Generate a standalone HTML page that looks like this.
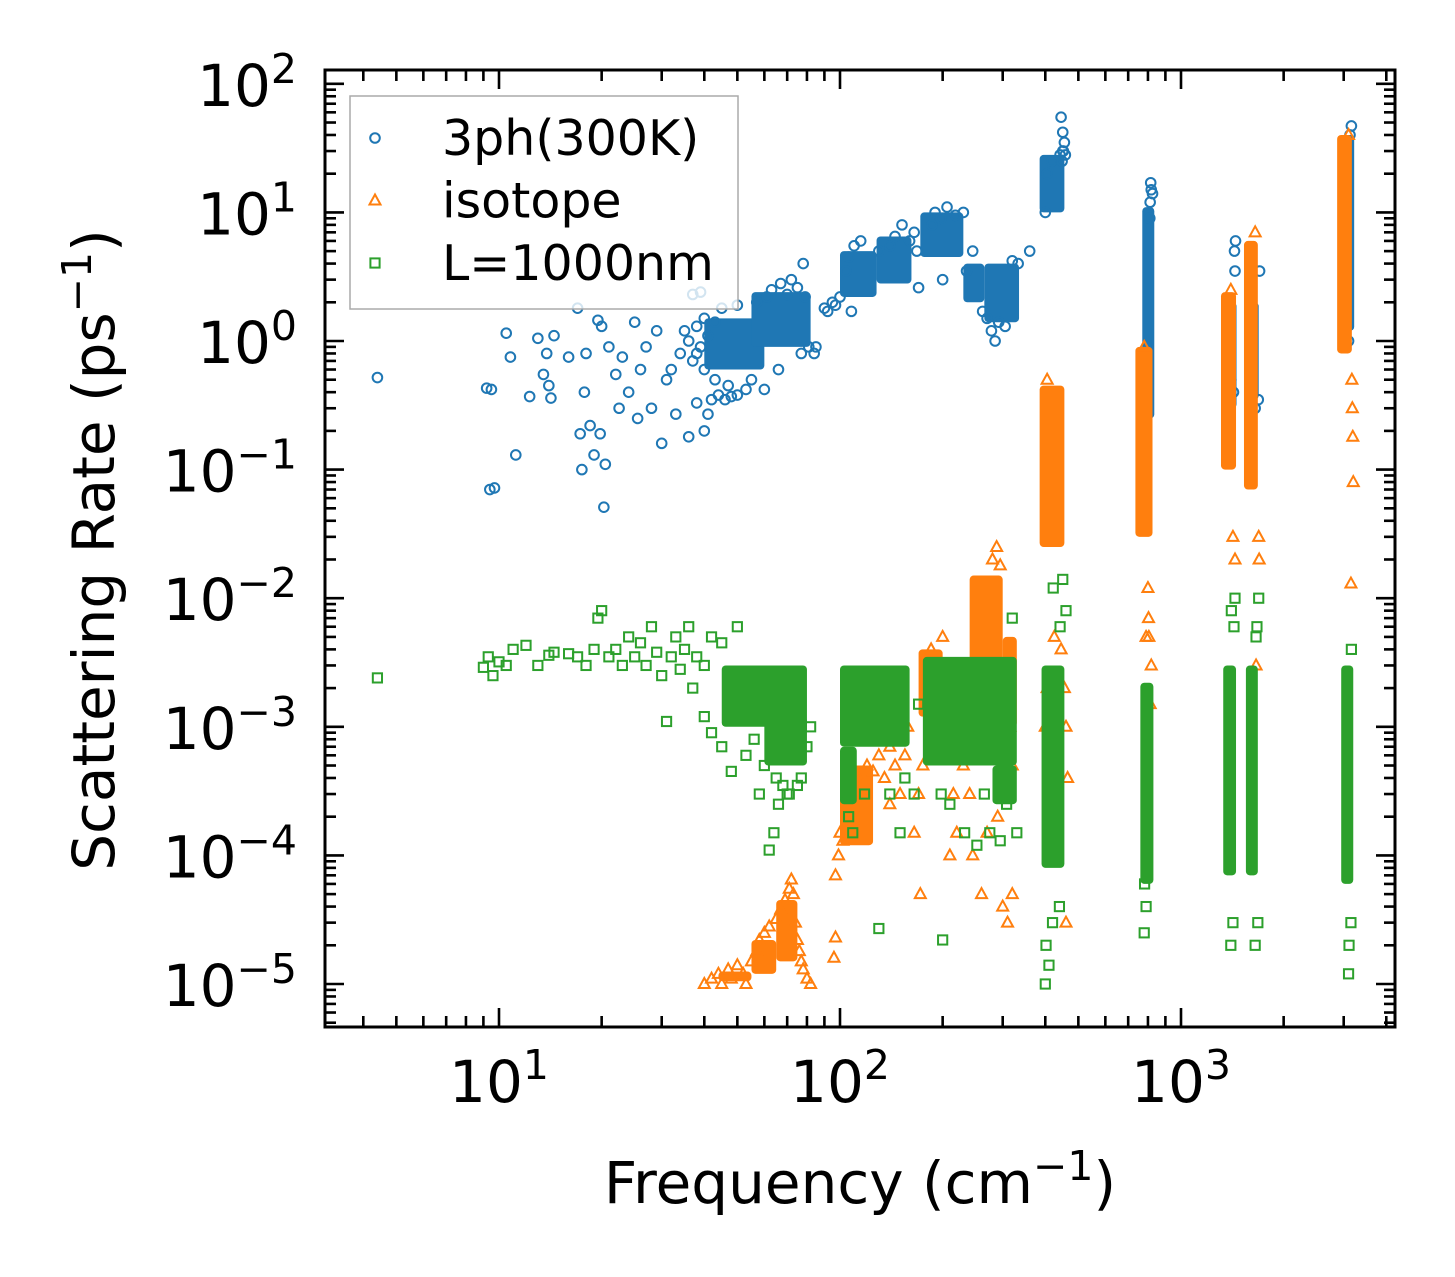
<!DOCTYPE html>
<html><head><meta charset="utf-8"><style>
body{margin:0;background:#fff}
svg{display:block;font-family:"DejaVu Sans","Liberation Sans",sans-serif}
</style></head><body>
<svg id="chart" width="1455" height="1277" viewBox="0 0 1455 1277" xmlns="http://www.w3.org/2000/svg">
<rect width="1455" height="1277" fill="#fff"/>
<g id="marks"></g>
<g id="axes"></g>
</svg>
<script>
const xTickVals=[10,100,1000];
const yTickExps=[2,1,0,-1,-2,-3,-4,-5];
const seriesNames=["3ph(300K)","isotope","L=1000nm"];
const blue=[[4.4,0.52],[9.2,0.43],[9.5,0.42],[9.4,0.07],[9.7,0.072],[10.5,1.15],[10.8,0.75],[11.2,0.13],[12.3,0.37],[13,1.05],[13.5,0.55],[13.8,0.8],[14,0.45],[14.2,0.36],[14.5,1.1],[16,0.75],[17,1.8],[17.3,0.19],[17.5,0.1],[17.8,0.4],[18,0.8],[18.5,0.22],[19,0.13],[19.5,1.45],[19.8,0.19],[20,1.3],[20.3,0.051],[20.5,0.11],[21,0.9],[22,0.55],[22.5,0.3],[23,0.75],[24,0.4],[25,1.4],[25.5,0.25],[26,0.6],[27,0.9],[28,0.3],[29,1.2],[30,0.16],[31,0.5],[32,0.6],[33,0.27],[34,0.8],[35,1.2],[36,0.18],[37,2.3],[38,0.8],[39,2.4],[40,0.2],[42,0.35],
[36,1.0],[37,0.7],[38,1.3],[39,0.9],[40,1.5],[40,0.6],[41,1.1],[43,1.4],[43,0.5],[45,1.8],[47,0.45],[50,1.9],[55,0.5],[57,2.0],[61,2.2],[63,2.5],[66,0.6],[67,2.8],[70,2.3],[72,3.0],[75,2.6],[77,0.8],[78,4.0],[79,2.2],[81,0.9],[84,0.8],[85,0.9],
[44,0.38],[46,0.35],[48,0.37],[50,0.38],[53,0.42],[60,0.42],[38,0.33],[41,0.27],
[90,1.8],[92,1.7],[95,2.0],[97,1.9],[100,2.2],
[104,3.5],[106,4.5],[108,1.7],[110,5.5],[115,6.0],[130,5.0],[140,5.5],[145,6.5],[152,8.0],[160,6.0],[165,7.0],[168,5.0],[170,2.6],
[186,8.0],[190,10],[198,9.0],[206,11],[218,9.5],[230,10],[200,3.0],[235,3.5],[245,5],
[262,1.7],[270,1.5],[278,1.2],[285,1.0],[292,1.4],[305,1.3],[320,4.2],[333,4.0],[360,5.0],
[400,10],[405,20],[418,25],[442,28],[448,25],[450,30],[452,30],[455,35],[458,28],[445,55],[450,42],
[790,0.3],[795,0.5],[810,9],[812,12],[815,17],[825,14],[818,15],
[1400,0.5],[1440,3.5],[1445,6],[1435,5],[1425,0.4],
[1650,0.3],[1700,3.5],[1685,0.35],
[3100,1],[3160,47],[3130,40]];
const orange=[[40,1.0e-5],[42,1.1e-5],[44,1.2e-5],[45,1.0e-5],[47,1.3e-5],[48,1.1e-5],[50,1.4e-5],[52,1.2e-5],[53,1.0e-5],[55,1.5e-5],[57,1.8e-5],[58,2.2e-5],[60,2.5e-5],[62,2.8e-5],[65,3.2e-5],[67,3.8e-5],[69,4.5e-5],[71,5.5e-5],[72,6.5e-5],[73,5.0e-5],[74,3.0e-5],[75,2.2e-5],[76,1.8e-5],[77,1.5e-5],[78,1.3e-5],[80,1.1e-5],[82,1.0e-5],
[96,1.6e-5],[97,2.3e-5],[97,7e-5],[99,1.0e-4],[100,1.5e-4],[102,1.3e-4],
[105,2e-4],[108,3e-4],[113,4e-4],[120,5e-4],[125,4.5e-4],[130,6e-4],[135,4e-4],[140,7e-4],[145,5e-4],[150,8e-4],[155,6e-4],[158,1e-3],[150,3e-4],[140,2.5e-4],
[165,1.5e-4],[170,3e-4],[172,5e-5],[175,5e-4],[180,2e-3],[185,4e-3],[190,1e-3],[195,3e-3],[200,5e-3],[205,2e-3],[210,1e-4],[215,3e-4],[220,1.5e-4],[225,2e-3],[230,5e-4],[240,3e-4],[245,1e-4],
[255,1e-3],[280,2e-2],[288,2.5e-2],[295,1.8e-2],[315,1e-3],[320,5e-4],[300,4e-5],[310,3e-5],[320,5e-5],[260,5e-5],[270,1.5e-4],[290,2e-4],
[400,1e-3],[405,2e-3],[405,0.5],[425,5e-3],[445,4e-3],[455,2e-3],[460,1e-3],[460,3e-5],[465,4e-4],
[780,0.9],[790,5e-3],[800,0.012],[803,7e-3],[805,5e-3],[818,3e-3],[812,1.5e-3],
[1400,2.5],[1420,0.03],[1440,0.02],
[1650,7],[1660,3e-3],[1690,0.03],[1695,0.02],
[3100,40],[3150,0.013],[3190,0.18],[3200,0.08],[3170,0.5],[3180,0.3]];
const green=[[4.4,2.4e-3],[9,2.9e-3],[9.3,3.5e-3],[9.6,2.5e-3],[10,3.2e-3],[10.5,3.0e-3],[11,4.0e-3],[12,4.3e-3],[13,3.0e-3],[14,3.6e-3],[14.5,3.8e-3],[16,3.7e-3],[17,3.5e-3],[18,3.0e-3],[19,4.0e-3],[19.5,7.0e-3],[20,8.0e-3],[21,3.5e-3],[22,4.0e-3],[23,3.0e-3],[24,5.0e-3],[25,3.5e-3],[26,4.5e-3],[27,3.0e-3],[28,6.0e-3],[29,3.8e-3],[30,2.5e-3],[31,1.1e-3],[32,3.5e-3],[33,5.0e-3],[34,2.8e-3],[35,4.0e-3],[36,6.0e-3],[37,2.0e-3],[38,3.5e-3],
[40,3.0e-3],[40,1.2e-3],[42,5.0e-3],[42,9e-4],[45,4.5e-3],[45,7e-4],[48,4.5e-4],[50,6.0e-3],[53,6e-4],[56,8e-4],[58,3e-4],[60,5e-4],[65,4e-4],[71,3e-4],[77,4e-4],[62,1.1e-4],[64,1.5e-4],[66,2.5e-4],[68,3.5e-4],[75,3.5e-4],[70,3e-4],[82,1.0e-3],[80,7e-4],
[104,3e-4],[106,2e-4],[109,1.5e-4],[118,3e-4],[140,3e-4],[150,1.5e-4],[155,4e-4],[130,2.7e-5],[165,3e-4],[170,1.5e-3],
[198,3e-4],[200,2.2e-5],[210,2.5e-4],[232,1.5e-4],[252,1.2e-4],[265,3e-4],[275,1.5e-4],[295,1.3e-4],[308,2.5e-4],[320,7e-3],[330,1.5e-4],
[400,1e-5],[402,2e-5],[410,1.4e-5],[420,3e-5],[440,4e-5],[422,1.2e-2],[450,1.4e-2],[460,8e-3],[442,6e-3],
[780,2.5e-5],[790,4e-5],[782,6e-5],
[1400,2e-5],[1420,3e-5],[1440,1e-2],[1405,8e-3],[1430,6e-3],
[1650,2e-5],[1680,3e-5],[1690,1e-2],[1660,5e-3],[1670,6e-3],
[3100,1.2e-5],[3110,2e-5],[3150,3e-5],[3160,4e-3]];
// dense-cluster envelopes: [xLow, xHigh, yLow, yHigh]
const blueBands=[[40,60,0.6,1.5],[55,82,0.9,2.4],[100,128,2.2,5],[128,162,2.8,6.5],[172,230,4.5,10],[230,265,2,4],[265,335,1.4,4],[385,455,10,28],[770,835,0.25,11],[1320,1455,0.3,2],[1540,1690,0.35,2],[2920,3220,1.2,40]];
const orangeBands=[[44,55,1.05e-5,1.25e-5],[55,65,1.2e-5,2.2e-5],[65,75,1.5e-5,4.5e-5],[100,125,1.2e-4,5e-4],[170,200,1.2e-3,4e-3],[240,300,3e-3,0.015],[300,330,1e-3,5e-3],[385,455,0.025,0.45],[735,825,0.03,0.9],[1310,1450,0.1,2.4],[1530,1680,0.07,6],[2870,3170,0.8,40]];
const greenBands=[[45,80,1e-3,3e-3],[60,80,5e-4,1.2e-3],[100,160,7e-4,3e-3],[100,112,2.5e-4,7e-4],[175,330,5e-4,3.5e-3],[280,330,2.5e-4,5e-4],[390,455,8e-5,3e-3],[760,830,6e-5,2.2e-3],[1330,1450,7e-5,3e-3],[1550,1680,7e-5,3e-3],[2950,3200,6e-5,3e-3]];

const NS="http://www.w3.org/2000/svg";
const L=325,R=1395,T=70,B=1027;
const X0=158,XD=341, Y0=341, YD=128.6;
function xs(v){return X0+XD*Math.log10(v);}
function ys(v){return Y0-YD*Math.log10(v);}
function mk(tag,attrs,parent){const e=document.createElementNS(NS,tag);for(const k in attrs)e.setAttribute(k,attrs[k]);parent.appendChild(e);return e;}
const marks=document.getElementById('marks'), axes=document.getElementById('axes');
const colors=["#1f77b4","#ff7f0e","#2ca02c"];
function marker(kind,cx,cy,col,parent){
  let e;
  if(kind===0) e=mk('circle',{cx:cx,cy:cy,r:4.8,fill:'none',stroke:col,'stroke-width':2},parent);
  else if(kind===1) e=mk('polygon',{points:`${cx},${cy-6} ${cx-5.5},${cy+4} ${cx+5.5},${cy+4}`,fill:'none',stroke:col,'stroke-width':2},parent);
  else e=mk('rect',{x:cx-4.6,y:cy-4.6,width:9.2,height:9.2,fill:'none',stroke:col,'stroke-width':2},parent);
  return e;
}
const allSeries=[blue,orange,green], allBands=[blueBands,orangeBands,greenBands];
const clip=mk('clipPath',{id:'pc'},document.getElementById('chart'));
mk('rect',{x:L,y:T,width:R-L,height:B-T},clip);
marks.setAttribute('clip-path','url(#pc)');
for(let s=0;s<3;s++){
  const g=mk('g',{},marks);
  
  
  allBands[s].forEach(b=>{
    const r=mk('rect',{x:xs(b[0]),y:ys(b[3]),width:xs(b[1])-xs(b[0]),height:ys(b[2])-ys(b[3]),fill:colors[s],rx:4},g);
    
    
  });
  allSeries[s].forEach(p=>{
    const m=marker(s,xs(p[0]),ys(p[1]),colors[s],g);
    
    
  });
}
const fr=mk('rect',{x:L,y:T,width:R-L,height:B-T,fill:'none',stroke:'#000','stroke-width':3},axes);


for(let d=0;d<=3;d++){for(let m=1;m<10;m++){const v=m*Math.pow(10,d);const x=xs(v);if(x<L||x>R)continue;const len=m===1?19:11;
  mk('line',{x1:x,y1:B,x2:x,y2:B-len,stroke:'#000','stroke-width':2.6},axes);
  mk('line',{x1:x,y1:T,x2:x,y2:T+len,stroke:'#000','stroke-width':2.6},axes);}}
xTickVals.forEach(v=>{const t=mk('text',{x:xs(v),y:1102,'text-anchor':'middle','font-size':58},axes);
  
  
  t.innerHTML='10<tspan dy="-23" font-size="41">'+Math.round(Math.log10(v))+'</tspan>';});
for(let d=-6;d<=2;d++){for(let m=1;m<10;m++){const v=m*Math.pow(10,d);const y=ys(v);if(y<T||y>B)continue;const len=m===1?19:11;
  mk('line',{x1:L,y1:y,x2:L+len,y2:y,stroke:'#000','stroke-width':2.6},axes);
  mk('line',{x1:R,y1:y,x2:R-len,y2:y,stroke:'#000','stroke-width':2.6},axes);}}
yTickExps.forEach(e=>{const y=ys(Math.pow(10,e));const t=mk('text',{x:297,y:y+22,'text-anchor':'end','font-size':58},axes);
  
  
  t.innerHTML='10<tspan dy="-23" font-size="41">'+(e<0?'−'+(-e):e)+'</tspan>';});
const xt=mk('text',{x:860,y:1203,'text-anchor':'middle','font-size':58},axes);


xt.innerHTML='Frequency (cm<tspan dy="-23" font-size="41">−1</tspan><tspan dy="23">)</tspan>';
const yt=mk('text',{x:0,y:0,'text-anchor':'middle','font-size':58,transform:'translate(114,550) rotate(-90)'},axes);


yt.innerHTML='Scattering Rate (ps<tspan dy="-23" font-size="41">−1</tspan><tspan dy="23">)</tspan>';
const lg=mk('g',{},axes);


mk('rect',{x:350,y:96,width:388,height:213,fill:'#fff','fill-opacity':0.8,stroke:'#aaa','stroke-width':1.5},lg);
seriesNames.forEach((n,i)=>{const y=138+i*62.5;
  const m=marker(i,375,y,colors[i],lg);
  
  
  const t=mk('text',{x:442,y:y+17,'font-size':49},lg);
  
  
  t.textContent=n;});
</script>
</body></html>
